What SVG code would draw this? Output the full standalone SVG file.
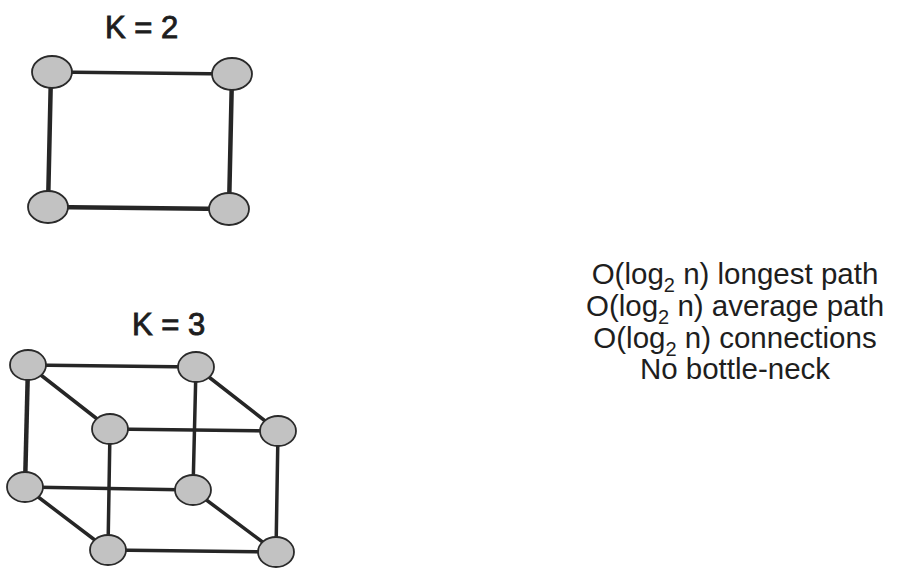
<svg xmlns="http://www.w3.org/2000/svg" width="897" height="574" viewBox="0 0 897 574">
  <style>
    .edge { stroke: #262626; stroke-width: 3.5; stroke-linecap: round; fill: none; }
    .edge.thick { stroke-width: 4.5; }
    .node { fill: #c2c2c2; stroke: #2a2a2a; stroke-width: 1.8; }
    .title { font-family: "Liberation Sans", Arial, sans-serif; font-size: 31px; fill: #1e1e1e; stroke: #1e1e1e; stroke-width: 0.9; }
    .prop { font-family: "Liberation Sans", Arial, sans-serif; font-size: 29.5px; fill: #1e1e1e; text-anchor: middle; }
    .sub { font-size: 20px; }
  </style>
  <rect width="897" height="574" fill="#ffffff"/>

  <!-- 2-dimensional hypercube -->
  <text class="title" x="105" y="38">K = 2</text>
  <g id="k2-edges">
    <line class="edge" x1="52" y1="72" x2="232" y2="74"/>
    <line class="edge thick" x1="51" y1="72" x2="48" y2="207"/>
    <line class="edge thick" x1="232" y1="74" x2="229" y2="209"/>
    <line class="edge thick" x1="48" y1="207" x2="229" y2="209"/>
  </g>
  <g id="k2-n00"><ellipse class="node" cx="52" cy="72" rx="20" ry="16"/></g>
  <g id="k2-n01"><ellipse class="node" cx="232" cy="74" rx="20" ry="16"/></g>
  <g id="k2-n10"><ellipse class="node" cx="48" cy="207" rx="20" ry="16"/></g>
  <g id="k2-n11"><ellipse class="node" cx="229" cy="209" rx="20" ry="16"/></g>

  <!-- 3-dimensional hypercube -->
  <text class="title" x="132" y="335">K = 3</text>
  <g id="k3-edges">
    <line class="edge" x1="28" y1="365" x2="196" y2="367"/>
    <line class="edge thick" x1="28" y1="365" x2="25" y2="487"/>
    <line class="edge" x1="28" y1="365" x2="110" y2="429"/>
    <line class="edge" x1="196" y1="367" x2="278" y2="431"/>
    <line class="edge" x1="196" y1="367" x2="193" y2="490"/>
    <line class="edge" x1="110" y1="429" x2="278" y2="431"/>
    <line class="edge" x1="110" y1="429" x2="108" y2="550"/>
    <line class="edge" x1="278" y1="431" x2="276" y2="552"/>
    <line class="edge" x1="25" y1="487" x2="193" y2="490"/>
    <line class="edge" x1="25" y1="487" x2="108" y2="550"/>
    <line class="edge" x1="193" y1="490" x2="276" y2="552"/>
    <line class="edge" x1="108" y1="550" x2="276" y2="552"/>
  </g>
  <g id="k3-n000"><ellipse class="node" cx="28" cy="365" rx="18" ry="15"/></g>
  <g id="k3-n001"><ellipse class="node" cx="196" cy="367" rx="18" ry="15"/></g>
  <g id="k3-n010"><ellipse class="node" cx="110" cy="429" rx="18" ry="15"/></g>
  <g id="k3-n011"><ellipse class="node" cx="278" cy="431" rx="18" ry="15"/></g>
  <g id="k3-n100"><ellipse class="node" cx="25" cy="487" rx="18" ry="15"/></g>
  <g id="k3-n101"><ellipse class="node" cx="193" cy="490" rx="18" ry="15"/></g>
  <g id="k3-n110"><ellipse class="node" cx="108" cy="550" rx="18" ry="15"/></g>
  <g id="k3-n111"><ellipse class="node" cx="276" cy="552" rx="18" ry="15"/></g>

  <!-- properties -->
  <g id="properties">
    <text class="prop" x="735" y="284">O(log<tspan class="sub" dy="8">2</tspan><tspan dy="-8"> n) longest path</tspan></text>
    <text class="prop" x="735" y="316">O(log<tspan class="sub" dy="8">2</tspan><tspan dy="-8"> n) average path</tspan></text>
    <text class="prop" x="735" y="348">O(log<tspan class="sub" dy="8">2</tspan><tspan dy="-8"> n) connections</tspan></text>
    <text class="prop" x="735" y="379">No bottle-neck</text>
  </g>
</svg>
